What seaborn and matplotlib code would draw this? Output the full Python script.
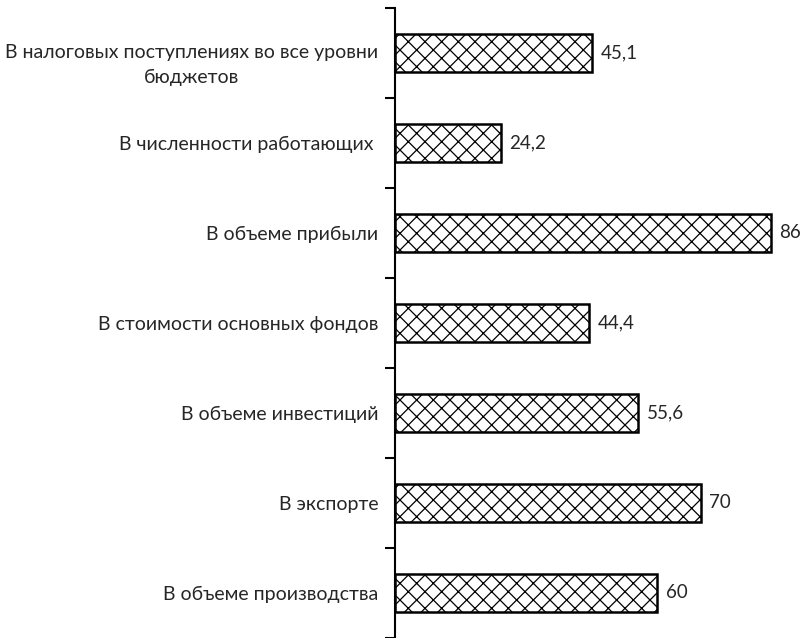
import seaborn as sns
import pandas as pd
import matplotlib.pyplot as plt
import matplotlib as mpl
import matplotlib.transforms as mtransforms

categories = [
    'В налоговых поступлениях во все уровни\nбюджетов',
    'В численности работающих ',
    'В объеме прибыли',
    'В стоимости основных фондов',
    'В объеме инвестиций',
    'В экспорте',
    'В объеме производства',
]
values = [45.1, 24.2, 86, 44.4, 55.6, 70, 60]
value_labels = ['45,1', '24,2', '86', '44,4', '55,6', '70', '60']

df = pd.DataFrame({'category': categories, 'value': values})

sns.set_style('white')
plt.rcParams['font.family'] = ['Lato', 'DejaVu Sans']
mpl.rcParams['hatch.linewidth'] = 0.9
mpl.rcParams['hatch.color'] = '#333333'

fig = plt.figure(figsize=(8.06, 6.38), dpi=100)
ax = fig.add_axes([395 / 806, 0, 411 / 806, 1 - 8 / 638])

sns.barplot(data=df, x='value', y='category', orient='h', color='white',
            edgecolor='black', linewidth=1.8, width=0.42, ax=ax)
for p in ax.patches:
    p.set_hatch('xx')
    p.set_edgecolor('black')

ax.bar_label(ax.containers[0], labels=value_labels, padding=6, fontsize=13.5,
             color='#262626')

ax.set_xlim(0, 94)
ax.set_ylim(6.5, -0.5)
ax.set_xlabel('')
ax.set_ylabel('')
ax.set_xticks([])
ax.set_yticks([i - 0.5 for i in range(8)], minor=True)
ax.tick_params(axis='y', which='major', length=0, pad=12, labelsize=14,
               labelcolor='#262626')
ax.tick_params(axis='y', which='minor', length=7, width=1.5, color='black',
               direction='out', left=True)
for lbl in ax.get_yticklabels():
    lbl.set_multialignment('center')
    lbl.set_linespacing(1.5)

# two-line label sits a little lower than the bar centre
first = ax.get_yticklabels()[0]
first.set_transform(first.get_transform() +
                    mtransforms.ScaledTranslation(0, -7 / 100, fig.dpi_scale_trans))

for s in ['top', 'right', 'bottom']:
    ax.spines[s].set_visible(False)
ax.spines['left'].set_color('black')
ax.spines['left'].set_linewidth(1.5)

fig.savefig('out.png', dpi=100)
